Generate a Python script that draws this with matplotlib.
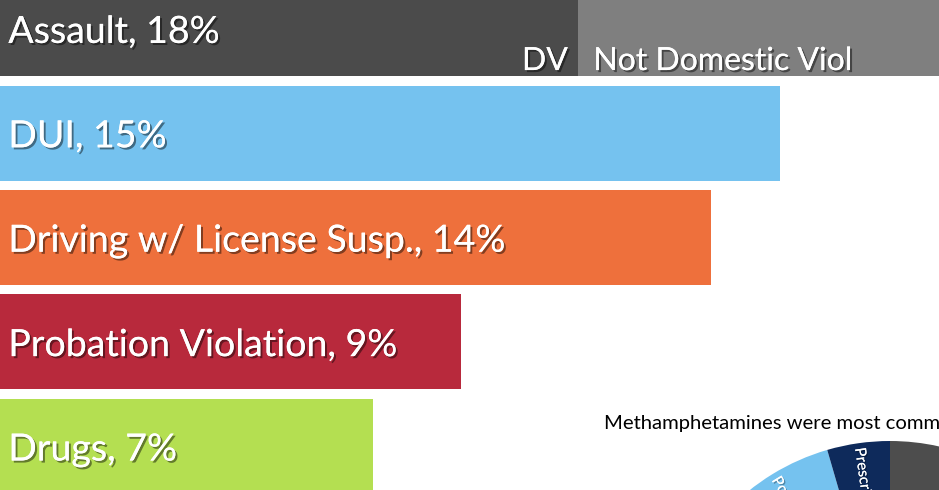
import math
import matplotlib
matplotlib.use('Agg')
import matplotlib.pyplot as plt
import matplotlib.patheffects as pe

plt.rcParams['font.family'] = ['Lato', 'DejaVu Sans']

# ---------------- data ----------------
categories = ['Assault', 'DUI', 'Driving w/ License Susp.', 'Probation Violation', 'Drugs']
pct_labels = ['18%', '15%', '14%', '9%', '7%']
bar_values = [18.1, 15.0, 13.67, 8.87, 7.17]
bar_colors = ['#4b4b4b', '#75c2ef', '#ee703c', '#b8293c', '#b4df51']

assault_segments = ['DV', 'Not Domestic Viol']
assault_values = [11.12, 7.0]
assault_colors = ['#4b4b4b', '#7f7f7f']

pie_labels = ['Methamphetamines', 'Heroin', 'Marijuana', 'Polysubstance', 'Prescription']
pie_values = [56.0, 18.0, 13.0, 8.5, 4.5]
pie_colors = ['#4d4d4d', '#ee703c', '#b4df51', '#75c2ef', '#0e2a5b']
pie_title = 'Methamphetamines were most common'

# ---------------- figure ----------------
W, H = 939, 490
fig = plt.figure(figsize=(W / 100, H / 100), dpi=100)
fig.patch.set_facecolor('white')

px_per_pct = 52.0
row_px = 104.4
first_center = 28.6

ax = fig.add_axes([0, 0, 1, 1])
ax.set_xlim(0, W / px_per_pct)
ax.set_ylim((H - first_center) / row_px, -first_center / row_px)
ax.axis('off')

shadow = [pe.withSimplePatchShadow(offset=(1.5, -1.5), shadow_rgbFace='black', alpha=0.45), pe.Normal()]

bar_h = 95 / row_px
for i, (cat, val, col) in enumerate(zip(categories, bar_values, bar_colors)):
    if i == 0:
        left = 0
        for seg, v, c in zip(assault_segments, assault_values, assault_colors):
            ax.barh(i, v, left=left, height=bar_h, color=c, linewidth=0)
            left += v
    else:
        ax.barh(i, val, height=bar_h, color=col, linewidth=0)
    ax.text(0.16, i + 0.137, f'{cat}, {pct_labels[i]}', color='white', fontsize=27,
            ha='left', va='baseline', path_effects=shadow)

# segment labels inside Assault bar
dv_end = assault_values[0]
ax.text(dv_end - 0.2, 0.397, assault_segments[0], color='white', fontsize=23,
        ha='right', va='baseline', path_effects=shadow)
ax.text(dv_end + 0.29, 0.397, assault_segments[1], color='white', fontsize=23,
        ha='left', va='baseline', path_effects=shadow)

# ---------------- pie ----------------
cx, cy, r = 890, 666, 225
pax = fig.add_axes([(cx - r) / W, (H - cy - r) / H, 2 * r / W, 2 * r / H])
wedges, _ = pax.pie(pie_values, colors=pie_colors, startangle=90, counterclock=False,
                    radius=1, wedgeprops=dict(linewidth=0))
pax.set_xlim(-1, 1)
pax.set_ylim(-1, 1)
pax.set_aspect('equal')
pax.axis('off')

for w, lab in zip(wedges, pie_labels):
    mid = (w.theta1 + w.theta2) / 2.0
    x = 0.98 * math.cos(math.radians(mid))
    y = 0.98 * math.sin(math.radians(mid))
    rot = mid - 180
    while rot < -180:
        rot += 360
    ha = 'left'
    if rot < -90 or rot > 90:
        rot += 180
        ha = 'right'
    pax.text(x, y, lab, color='white', fontsize=11, rotation=rot, rotation_mode='anchor',
             ha=ha, va='center', clip_on=True,
             path_effects=[pe.withSimplePatchShadow(offset=(1, -1), shadow_rgbFace='black', alpha=0.3), pe.Normal()])

fig.text(604 / W, 1 - 429 / H, pie_title, color='black', fontsize=14.6, ha='left', va='baseline')

fig.savefig('out.png', dpi=100)
